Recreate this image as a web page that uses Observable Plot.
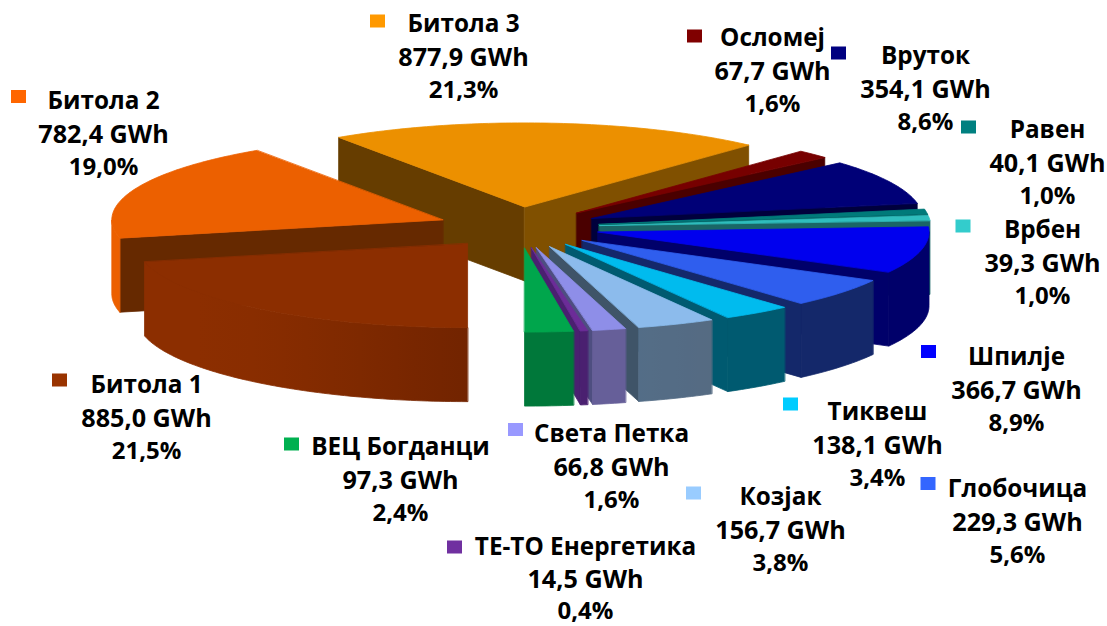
<!DOCTYPE html>
<html>
<head>
<meta charset="utf-8">
<script src="https://cdn.jsdelivr.net/npm/d3@7"></script>
<script src="https://cdn.jsdelivr.net/npm/@observablehq/plot@0.6"></script>
<style>html,body{margin:0;padding:0;background:#fff}svg{display:block}</style>
</head>
<body>
<div id="chart"></div>
<script>
// Data, clockwise from the front of the pie
const names = ["Битола 1","Битола 2","Битола 3","Осломеј","Вруток","Равен","Врбен","Шпилје","Глобочица","Тиквеш","Козјак","Света Петка","ТЕ-ТО Енергетика","ВЕЦ Богданци"];
const gwh = [885.0,782.4,877.9,67.7,354.1,40.1,39.3,366.7,229.3,138.1,156.7,66.8,14.5,97.3];

// Colours
const legendColors = ["#993300","#FF6600","#FF9900","#800000","#000080","#008080","#33CCCC","#0000FF","#3366FF","#00CCFF","#99CCFF","#9999FF","#7030A0","#00B050"];
const topColors = ["#8C2E00","#EC6000","#EC9000","#770000","#000077","#007A7A","#2FBDBD","#0000EE","#2F5EEE","#00BBEE","#8CBBEC","#8E8EE8","#6C2C98","#00A64C"];
const startFaces = ["#662200","#662900","#663D00","#4A0000","#00003C","#004444","#1A6666","#00006A","#14286A","#005A70","#3F5468","#4E4E80","#4A2070","#00783A"];
const endFaces = ["#662200","#662900","#805000","#4A0000","#00003C","#004444","#1A6666","#00006A","#14286A","#005A70","#3F5468","#4E4E80","#4A2070","#00783A"];
const wallFront = ["#722400","#EC6000","#805000","#4A0000","#00003C","#004444","#1A6666","#00006A","#14286A","#005A70","#52708C","#665F99","#4A2070","#00783A"];
const wallSide = ["#8C2E00","#EC6000","#805000","#4A0000","#00003C","#004444","#1A6666","#00006A","#14286A","#005A70","#56687E","#665F99","#4A2070","#00783A"];

// Layout of the pie and labels
const pie = {cx: 518, cy: 227, rx: 331, ry: 84, depth: 74, explode: 0.246};
const labelX = [146,103,463,772,925,1047,1042,1016,1017,877,780,611,585,400];
const labelY = [385,101,24,38,56,130,230,357,489,412,497,434,547,447];
const lineSteps = [33,33,33,33,33,33,33,33,33,33,33,33,32,33];
const swatchX = [59.5,18.5,377.5,694.5,838.5,968.5,963,928.5,928,790.5,693.5,515.5,454.5,291.5];
const swatchY = [380,96.5,21,36,53,127,226,351.5,483.5,404,493,429.5,547,444];

const total = d3.sum(gwh);
const rad = d => d * Math.PI / 180;
let acc = 0;
const slices = gwh.map((v, i) => {
  const a0 = acc / total * 360;
  acc += v;
  const a1 = acc / total * 360;
  const mid = (a0 + a1) / 2;
  const ox = pie.cx - pie.explode * pie.rx * Math.sin(rad(mid));
  const oy = pie.cy + pie.explode * pie.ry * Math.cos(rad(mid));
  return {i, a0, a1, mid, ox, oy};
});
const rim = (s, a, h = 0) => [s.ox - pie.rx * Math.sin(rad(a)), s.oy + pie.ry * Math.cos(rad(a)) + h];

const polys = [];
const gradients = [];
let nextId = 0;
const addPoly = (pts, color) => {
  const id = nextId++;
  pts.forEach(p => polys.push({id, x: p[0], y: p[1], color}));
};
const arcPts = (a, b) => {
  const n = Math.max(1, Math.ceil(b - a));
  return d3.range(n + 1).map(k => a + (b - a) * k / n);
};
const wallPoly = (s, a, b, color) => {
  const pts = arcPts(a, b);
  addPoly([...pts.map(p => rim(s, p)), ...pts.slice().reverse().map(p => rim(s, p, pie.depth))], color);
};

// Back-to-front painting order
const order = d3.sort(slices, s => Math.cos(rad(s.mid)));
for (const s of order) {
  const c = s.i, D = pie.depth;
  const face = (a, color) => addPoly([[s.ox, s.oy], rim(s, a), rim(s, a, D), [s.ox, s.oy + D]], color);
  if (Math.sin(rad(s.a0)) > 0.01) face(s.a0, startFaces[c]);
  if (Math.sin(rad(s.a1)) < -0.01) face(s.a1, endFaces[c]);
  const ranges = [[s.a0, Math.min(s.a1, 90)], [Math.max(s.a0, 270), s.a1]];
  for (const [a, b] of ranges) {
    if (b <= a) continue;
    if (wallFront[c] === wallSide[c]) { wallPoly(s, a, b, wallFront[c]); continue; }
    // Smooth shading of the outer wall: lighter the further it turns from the viewer
    const tone = d3.interpolateRgb(wallFront[c], wallSide[c]);
    const x0 = rim(s, a)[0], x1 = rim(s, b)[0];
    const id = "wall-" + c;
    gradients.push({id, x0, x1, stops: d3.range(7).map(k => {
      const f = k / 6;
      const sinv = Math.sin(rad(a)) + (Math.sin(rad(b)) - Math.sin(rad(a))) * f;
      return {offset: f, color: tone(Math.min(1, Math.abs(sinv) / 0.72))};
    })});
    wallPoly(s, a, b, `url(#${id})`);
  }
  addPoly([[s.ox, s.oy], ...arcPts(s.a0, s.a1).map(a => rim(s, a))], topColors[c]);
}

const comma = (v, suffix) => v.toFixed(1).replace(".", ",") + suffix;
const nameRows = names.map((name, i) => ({x: labelX[i], y: labelY[i], text: name}));
const valueRows = names.map((name, i) => ({x: labelX[i], y: labelY[i] + lineSteps[i], text: comma(gwh[i], " GWh")}));
const shareRows = names.map((name, i) => ({x: labelX[i], y: labelY[i] + 2 * lineSteps[i], text: comma(gwh[i] / total * 100, "%")}));
const swatches = names.map((name, i) => ({x: swatchX[i], y: swatchY[i], color: legendColors[i]}));

const wallGradients = () => {
  const defs = d3.create("svg:defs");
  for (const g of gradients) {
    const lg = defs.append("linearGradient").attr("id", g.id).attr("gradientUnits", "userSpaceOnUse")
      .attr("x1", g.x0).attr("x2", g.x1).attr("y1", 0).attr("y2", 0);
    for (const st of g.stops) lg.append("stop").attr("offset", st.offset).attr("stop-color", st.color);
  }
  return defs.node();
};

const textStyle = {x: "x", y: "y", text: "text", fill: "#000", fontWeight: 700, fontFamily: "'Open Sans', sans-serif", textAnchor: "middle", lineAnchor: "middle"};
const chart = Plot.plot({
  width: 1107, height: 626,
  marginTop: 0, marginRight: 0, marginBottom: 0, marginLeft: 0,
  x: {domain: [0, 1107], range: [0, 1107], axis: null},
  y: {domain: [0, 626], range: [0, 626], axis: null},
  color: {type: "identity"},
  style: {background: "#fff"},
  marks: [
    wallGradients,
    Plot.line(polys, {x: "x", y: "y", z: "id", fill: "color", stroke: "color", strokeWidth: 0.8, curve: "linear-closed"}),
    Plot.rect(swatches, {x1: d => d.x - 7.5, x2: d => d.x + 7.5, y1: d => d.y - 6.5, y2: d => d.y + 6.5, fill: "color"}),
    Plot.text(nameRows, {...textStyle, fontSize: 24.3}),
    Plot.text(valueRows, {...textStyle, fontSize: 25.2}),
    Plot.text(shareRows, {...textStyle, fontSize: 24})
  ]
});
document.getElementById("chart").appendChild(chart);
</script>
</body>
</html>
